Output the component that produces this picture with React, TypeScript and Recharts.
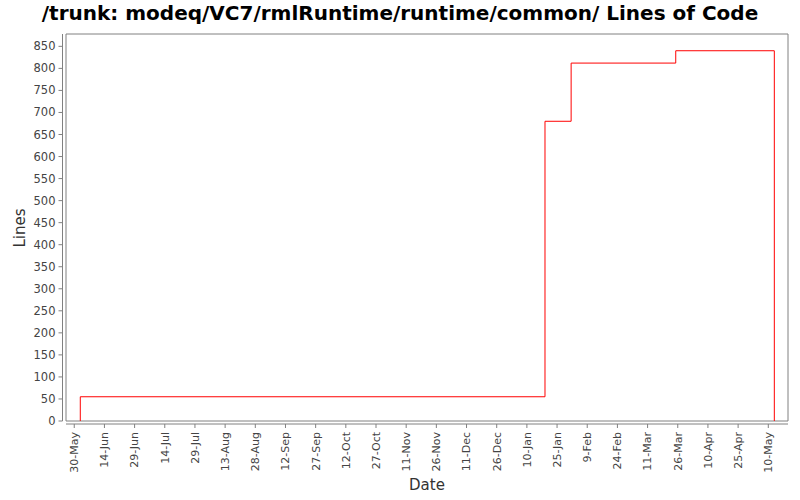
import { LineChart, Line, XAxis, YAxis, ReferenceArea } from "recharts";

// --- Data ---
const CHANGE_DATES = [
  "2006-06-02",
  "2006-06-02",
  "2007-01-19",
  "2007-02-01",
  "2007-03-25",
  "2007-05-13",
  "2007-05-13",
];
const LINE_COUNTS = [0, 55, 680, 812, 840, 840, 0];

const TICK_DATES = [
  "2006-05-30", "2006-06-14", "2006-06-29", "2006-07-14", "2006-07-29",
  "2006-08-13", "2006-08-28", "2006-09-12", "2006-09-27", "2006-10-12",
  "2006-10-27", "2006-11-11", "2006-11-26", "2006-12-11", "2006-12-26",
  "2007-01-10", "2007-01-25", "2007-02-09", "2007-02-24", "2007-03-11",
  "2007-03-26", "2007-04-10", "2007-04-25", "2007-05-10",
];
const Y_TICKS = [0, 50, 100, 150, 200, 250, 300, 350, 400, 450, 500, 550, 600, 650, 700, 750, 800, 850];
const MONTHS = ["Jan", "Feb", "Mar", "Apr", "May", "Jun", "Jul", "Aug", "Sep", "Oct", "Nov", "Dec"];

const dayNum = (s: string) => {
  const [y, m, d] = s.split("-").map(Number);
  return Date.UTC(y, m - 1, d) / 86400000;
};
const fmtDay = (v: number) => {
  const dt = new Date(v * 86400000);
  return `${dt.getUTCDate()}-${MONTHS[dt.getUTCMonth()]}`;
};

const data = CHANGE_DATES.map((d, i) => ({ day: dayNum(d), lines: LINE_COUNTS[i] }));
const xTicks = TICK_DATES.map(dayNum);
const X_MIN = xTicks[0] - 4.1;
const X_MAX = xTicks[0] + 354.8;
const Y_MAX = 878;

const FONT = "'DejaVu Sans', sans-serif";
const AXIS_GRAY = "#808080";
const TEXT = "#444444";

function XTick({ x, y, payload }: any) {
  return (
    <g transform={`translate(${x},${y})`}>
      <text
        transform="rotate(-90)"
        x={-5}
        y={0}
        dy="0.35em"
        textAnchor="end"
        fill={TEXT}
        fontSize={11}
        fontFamily={FONT}
      >
        {fmtDay(payload.value)}
      </text>
    </g>
  );
}

function YTick({ x, y, payload }: any) {
  return (
    <text x={x - 4.5} y={y} dy="0.35em" textAnchor="end" fill={TEXT} fontSize={11.5} fontFamily={FONT}>
      {payload.value}
    </text>
  );
}

export default function App() {
  return (
    <div style={{ position: "absolute", left: 0, top: 0, width: 800, height: 500, background: "#fff" }}>
      <LineChart width={800} height={500} data={data} margin={{ top: 34, right: 12, bottom: 0, left: 0 }}>
        <ReferenceArea
          x1={X_MIN}
          x2={X_MAX}
          y1={0}
          y2={Y_MAX}
          fill="none"
          stroke={AXIS_GRAY}
          strokeWidth={1}
          ifOverflow="visible"
        />
        <XAxis
          dataKey="day"
          type="number"
          domain={[X_MIN, X_MAX]}
          ticks={xTicks}
          interval={0}
          height={79}
          tickSize={4}
          axisLine={{ stroke: AXIS_GRAY, transform: "translate(0,3)" }}
          tickLine={{ stroke: AXIS_GRAY, transform: "translate(0,3)" }}
          tick={<XTick />}
          allowDataOverflow
        />
        <YAxis
          type="number"
          domain={[0, Y_MAX]}
          ticks={Y_TICKS}
          interval={0}
          width={66}
          tickSize={4}
          axisLine={{ stroke: AXIS_GRAY, transform: "translate(-3.5,0)" }}
          tickLine={{ stroke: AXIS_GRAY, transform: "translate(-3.5,0)" }}
          tick={<YTick />}
          allowDataOverflow
        />
        <Line
          type="stepAfter"
          dataKey="lines"
          stroke="#ff0000"
          strokeWidth={1}
          dot={false}
          activeDot={false}
          isAnimationActive={false}
        />
      </LineChart>
      <svg
        width={800}
        height={500}
        style={{ position: "absolute", left: 0, top: 0, pointerEvents: "none" }}
      >
        <text
          x={400}
          y={20}
          textAnchor="middle"
          fontFamily={FONT}
          fontWeight="bold"
          fontSize={20}
          fill="#000"
        >
          /trunk: modeq/VC7/rmlRuntime/runtime/common/ Lines of Code
        </text>
        <text
          transform="translate(25,228) rotate(-90)"
          textAnchor="middle"
          fontFamily={FONT}
          fontSize={15}
          fill="#333"
        >
          Lines
        </text>
        <text x={427} y={490} textAnchor="middle" fontFamily={FONT} fontSize={15} fill="#333">
          Date
        </text>
      </svg>
    </div>
  );
}
